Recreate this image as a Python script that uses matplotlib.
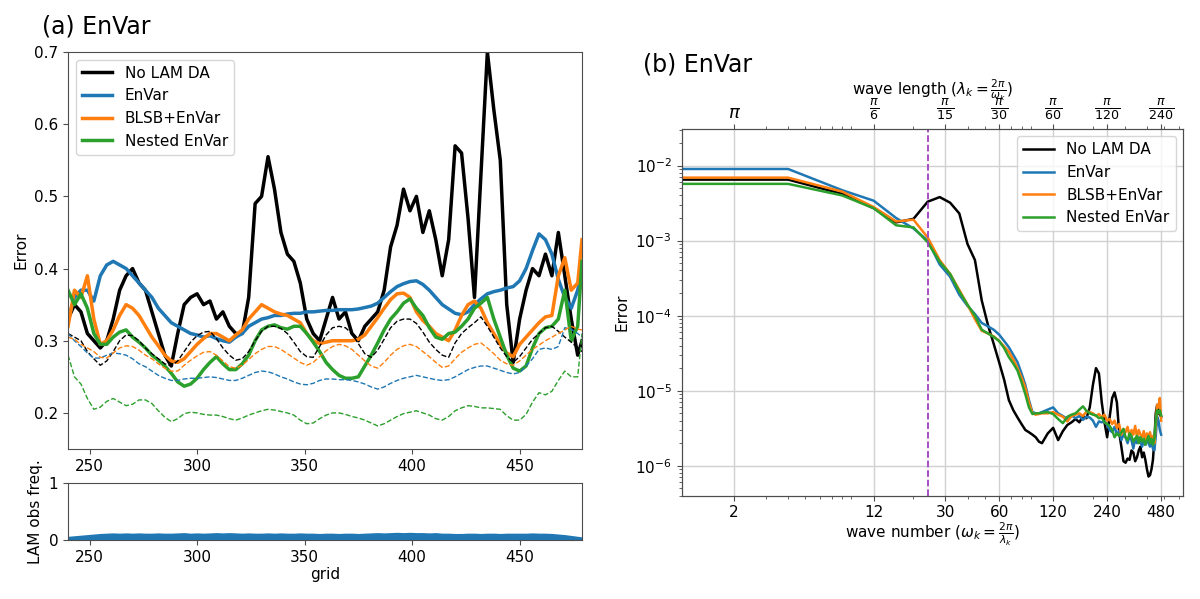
import numpy as np
import matplotlib.pyplot as plt

plt.rcParams["font.size"] = 11
plt.rcParams["axes.edgecolor"] = "0.3"
plt.rcParams["xtick.color"] = "0.3"
plt.rcParams["ytick.color"] = "0.3"
plt.rcParams["xtick.labelcolor"] = "black"
plt.rcParams["ytick.labelcolor"] = "black"

# ---- panel (a): error along the LAM grid ----
grid = np.r_[np.arange(240, 478, 3), 479]

err_no_da = [
    0.33, 0.35, 0.34, 0.31, 0.30, 0.29, 0.30, 0.33, 0.37, 0.39,
    0.40, 0.38, 0.37, 0.34, 0.31, 0.28, 0.265, 0.31, 0.35, 0.36,
    0.365, 0.35, 0.355, 0.33, 0.34, 0.32, 0.31, 0.31, 0.36, 0.49,
    0.50, 0.555, 0.51, 0.45, 0.42, 0.41, 0.38, 0.33, 0.31, 0.30,
    0.33, 0.36, 0.33, 0.34, 0.31, 0.30, 0.32, 0.33, 0.34, 0.37,
    0.43, 0.46, 0.51, 0.48, 0.50, 0.45, 0.48, 0.44, 0.39, 0.44,
    0.57, 0.56, 0.47, 0.36, 0.53, 0.70, 0.62, 0.55, 0.35, 0.27,
    0.33, 0.37, 0.40, 0.39, 0.42, 0.39, 0.45, 0.39, 0.33, 0.28,
    0.30,
]
err_envar = [
    0.33, 0.36, 0.37, 0.37, 0.355, 0.39, 0.405, 0.41, 0.405, 0.40,
    0.39, 0.38, 0.37, 0.36, 0.345, 0.335, 0.325, 0.32, 0.315, 0.31,
    0.308, 0.305, 0.307, 0.303, 0.30, 0.298, 0.305, 0.31, 0.32, 0.325,
    0.33, 0.332, 0.335, 0.335, 0.337, 0.338, 0.338, 0.34, 0.34, 0.341,
    0.342, 0.342, 0.343, 0.343, 0.343, 0.344, 0.346, 0.348, 0.352, 0.36,
    0.368, 0.375, 0.379, 0.382, 0.383, 0.378, 0.37, 0.36, 0.35, 0.344,
    0.338, 0.336, 0.34, 0.35, 0.358, 0.365, 0.368, 0.37, 0.373, 0.375,
    0.383, 0.40, 0.425, 0.448, 0.44, 0.42, 0.385, 0.36, 0.345, 0.37,
    0.40,
]
err_blsb = [
    0.32, 0.37, 0.36, 0.39, 0.33, 0.295, 0.30, 0.315, 0.335, 0.35,
    0.345, 0.335, 0.32, 0.305, 0.293, 0.28, 0.272, 0.27, 0.275, 0.285,
    0.295, 0.303, 0.31, 0.31, 0.305, 0.30, 0.308, 0.315, 0.33, 0.34,
    0.35, 0.345, 0.34, 0.337, 0.335, 0.33, 0.325, 0.31, 0.30, 0.296,
    0.298, 0.30, 0.30, 0.30, 0.30, 0.302, 0.308, 0.32, 0.332, 0.345,
    0.357, 0.365, 0.366, 0.36, 0.34, 0.328, 0.32, 0.31, 0.305, 0.30,
    0.315, 0.335, 0.35, 0.355, 0.345, 0.325, 0.31, 0.295, 0.283, 0.278,
    0.295, 0.305, 0.315, 0.325, 0.333, 0.335, 0.39, 0.415, 0.37, 0.38,
    0.44,
]
err_nested = [
    0.37, 0.35, 0.365, 0.345, 0.31, 0.295, 0.295, 0.305, 0.312, 0.315,
    0.305, 0.298, 0.29, 0.28, 0.273, 0.265, 0.255, 0.243, 0.237, 0.24,
    0.248, 0.26, 0.27, 0.278, 0.268, 0.26, 0.26, 0.268, 0.28, 0.30,
    0.315, 0.32, 0.322, 0.318, 0.316, 0.32, 0.32, 0.31, 0.298, 0.285,
    0.27, 0.26, 0.252, 0.248, 0.248, 0.25, 0.265, 0.28, 0.297, 0.315,
    0.33, 0.34, 0.352, 0.358, 0.345, 0.335, 0.318, 0.305, 0.302, 0.31,
    0.312, 0.32, 0.33, 0.345, 0.352, 0.36, 0.33, 0.305, 0.28, 0.262,
    0.258, 0.265, 0.29, 0.31, 0.318, 0.32, 0.33, 0.37, 0.30, 0.32,
    0.41,
]

# dashed curves (second statistic of each experiment)
dash_no_da = [
    0.31, 0.305, 0.30, 0.285, 0.275, 0.266, 0.272, 0.285, 0.30, 0.308,
    0.307, 0.30, 0.29, 0.282, 0.275, 0.268, 0.265, 0.272, 0.285, 0.298,
    0.307, 0.312, 0.313, 0.303, 0.29, 0.28, 0.273, 0.275, 0.285, 0.30,
    0.313, 0.32, 0.32, 0.317, 0.31, 0.298, 0.285, 0.278, 0.277, 0.292,
    0.308, 0.318, 0.32, 0.318, 0.31, 0.296, 0.282, 0.277, 0.287, 0.302,
    0.318, 0.327, 0.33, 0.33, 0.324, 0.312, 0.298, 0.288, 0.28, 0.277,
    0.297, 0.31, 0.318, 0.325, 0.333, 0.32, 0.305, 0.29, 0.278, 0.27,
    0.278, 0.29, 0.302, 0.31, 0.318, 0.32, 0.313, 0.305, 0.298, 0.29,
    0.285,
]
dash_envar = [
    0.31, 0.30, 0.292, 0.283, 0.276, 0.276, 0.28, 0.283, 0.282, 0.28,
    0.275, 0.268, 0.264, 0.258, 0.252, 0.248, 0.245, 0.245, 0.247, 0.248,
    0.248, 0.249, 0.25, 0.249, 0.247, 0.245, 0.245, 0.248, 0.252, 0.256,
    0.258, 0.257, 0.254, 0.25, 0.247, 0.243, 0.24, 0.239, 0.241, 0.245,
    0.247, 0.247, 0.246, 0.246, 0.245, 0.243, 0.24, 0.236, 0.233, 0.236,
    0.241, 0.245, 0.248, 0.25, 0.252, 0.25, 0.248, 0.246, 0.245, 0.246,
    0.25, 0.255, 0.26, 0.263, 0.265, 0.265, 0.262, 0.259, 0.256, 0.254,
    0.256, 0.265, 0.275, 0.288, 0.29, 0.288, 0.292, 0.318, 0.316, 0.31,
    0.305,
]
dash_blsb = [
    0.305, 0.302, 0.295, 0.29, 0.285, 0.277, 0.276, 0.283, 0.29, 0.293,
    0.292, 0.287, 0.28, 0.275, 0.268, 0.262, 0.258, 0.258, 0.266, 0.273,
    0.279, 0.284, 0.285, 0.28, 0.272, 0.264, 0.262, 0.266, 0.274, 0.282,
    0.288, 0.292, 0.292, 0.288, 0.282, 0.276, 0.27, 0.266, 0.27, 0.278,
    0.286, 0.292, 0.295, 0.293, 0.288, 0.28, 0.272, 0.265, 0.262, 0.27,
    0.28, 0.288, 0.293, 0.295, 0.292, 0.285, 0.278, 0.27, 0.263, 0.265,
    0.275, 0.284, 0.29, 0.295, 0.297, 0.29, 0.282, 0.273, 0.268, 0.266,
    0.272, 0.28, 0.288, 0.294, 0.30, 0.305, 0.31, 0.315, 0.32, 0.316,
    0.315,
]
dash_nested = [
    0.28, 0.25, 0.24, 0.22, 0.205, 0.208, 0.216, 0.22, 0.215, 0.21,
    0.212, 0.218, 0.218, 0.213, 0.203, 0.194, 0.188, 0.192, 0.199, 0.201,
    0.20, 0.198, 0.197, 0.197, 0.195, 0.192, 0.19, 0.193, 0.197, 0.20,
    0.203, 0.205, 0.204, 0.202, 0.20, 0.197, 0.19, 0.185, 0.186, 0.192,
    0.197, 0.20, 0.20, 0.198, 0.195, 0.193, 0.19, 0.186, 0.182, 0.185,
    0.19, 0.195, 0.199, 0.201, 0.203, 0.20, 0.197, 0.192, 0.19, 0.195,
    0.203, 0.207, 0.21, 0.209, 0.207, 0.207, 0.206, 0.205, 0.196, 0.19,
    0.19, 0.198, 0.215, 0.228, 0.225, 0.23, 0.245, 0.258, 0.25, 0.25,
    0.31,
]

obs_freq = [
    0.065, 0.075, 0.085, 0.095, 0.105, 0.115, 0.12, 0.125, 0.12, 0.125,
    0.12, 0.125, 0.12, 0.12, 0.125, 0.12, 0.12, 0.125, 0.13, 0.12,
    0.125, 0.12, 0.125, 0.13, 0.125, 0.13, 0.125, 0.12, 0.125, 0.12,
    0.12, 0.125, 0.12, 0.125, 0.12, 0.12, 0.125, 0.12, 0.12, 0.115,
    0.12, 0.12, 0.115, 0.12, 0.12, 0.115, 0.12, 0.125, 0.13, 0.125,
    0.13, 0.135, 0.13, 0.135, 0.13, 0.13, 0.125, 0.13, 0.12, 0.12,
    0.115, 0.115, 0.12, 0.12, 0.115, 0.12, 0.12, 0.115, 0.12, 0.12,
    0.12, 0.12, 0.125, 0.12, 0.12, 0.115, 0.105, 0.095, 0.08, 0.065,
    0.055,
]

# ---- panel (b): error spectrum vs wave number ----
wave = np.r_[np.arange(0, 104, 4), np.arange(104, 481, 8)]

spec_no_da = [
    6.5e-3, 6.5e-3, 4.2e-3, 2.7e-3, 1.75e-3, 1.95e-3, 3.3e-3, 3.8e-3, 3.2e-3, 2.3e-3,
    9e-4, 5.5e-4, 1.6e-4, 7.5e-5, 4.2e-5, 2.4e-5, 1.4e-5, 7.5e-6, 5.5e-6, 4.4e-6,
    3.6e-6, 3.0e-6, 2.8e-6, 2.6e-6, 2.4e-6, 2.1e-6,
    2.0e-6, 2.7e-6, 3.2e-6, 2.2e-6, 2.9e-6, 3.5e-6, 3.8e-6, 4.2e-6, 3.8e-6, 4.6e-6,
    4.3e-6, 6e-6, 1.2e-5, 2.0e-5, 1.7e-5, 7e-6, 3.8e-6, 2.4e-6, 4.5e-6, 8e-6,
    9.5e-6, 7e-6, 2.8e-6, 1.8e-6, 1.15e-6, 1.1e-6, 1.25e-6, 1.2e-6, 1.6e-6, 1.5e-6,
    1.15e-6, 1.3e-6, 1.6e-6, 1.8e-6, 1.3e-6, 1.5e-6, 1.2e-6, 9e-7, 7.2e-7, 7.5e-7,
    9e-7, 1.2e-6, 2.2e-6, 5e-6, 6.5e-6, 5e-6, 4.8e-6, 4.5e-6,
]
spec_envar = [
    9.0e-3, 9.0e-3, 4.7e-3, 3.4e-3, 2.0e-3, 1.45e-3, 1.0e-3, 4.8e-4, 3.3e-4, 1.9e-4,
    1.35e-4, 1.05e-4, 8e-5, 7.2e-5, 6.5e-5, 5.6e-5, 4.6e-5, 3.8e-5, 3.0e-5, 2.4e-5,
    1.7e-5, 1.2e-5, 7.5e-6, 5.2e-6, 5.0e-6, 5.0e-6,
    5.2e-6, 5.6e-6, 6.0e-6, 5.0e-6, 4.6e-6, 4.2e-6, 4.7e-6, 4.3e-6, 4.6e-6, 4.1e-6,
    4.5e-6, 4.4e-6, 4.0e-6, 3.3e-6, 3.9e-6, 3.8e-6, 3.9e-6, 3.5e-6, 3.0e-6, 2.8e-6,
    3.3e-6, 2.6e-6, 2.9e-6, 2.2e-6, 2.6e-6, 2.4e-6, 2.0e-6, 2.5e-6, 2.2e-6, 1.7e-6,
    2.3e-6, 2.0e-6, 2.4e-6, 2.1e-6, 1.8e-6, 2.2e-6, 1.9e-6, 2.3e-6, 2.0e-6, 1.8e-6,
    2.1e-6, 1.7e-6, 1.6e-6, 2.5e-6, 4.5e-6, 4.0e-6, 3.0e-6, 2.6e-6,
]
spec_blsb = [
    6.9e-3, 6.9e-3, 4.5e-3, 2.8e-3, 1.8e-3, 1.9e-3, 1.1e-3, 5.5e-4, 3.6e-4, 2.2e-4,
    1.4e-4, 9e-5, 6.3e-5, 5.8e-5, 5.3e-5, 4.6e-5, 3.9e-5, 3.3e-5, 2.6e-5, 2.0e-5,
    1.5e-5, 1.1e-5, 7e-6, 5.0e-6, 4.8e-6, 4.9e-6,
    5.0e-6, 5.0e-6, 5.2e-6, 4.8e-6, 4.5e-6, 3.9e-6, 4.6e-6, 4.8e-6, 5.0e-6, 4.6e-6,
    5.3e-6, 5.2e-6, 5.0e-6, 4.6e-6, 4.9e-6, 4.4e-6, 4.8e-6, 4.0e-6, 4.2e-6, 3.6e-6,
    4.0e-6, 3.2e-6, 3.6e-6, 2.6e-6, 3.1e-6, 2.8e-6, 3.3e-6, 2.5e-6, 3.0e-6, 2.6e-6,
    3.4e-6, 2.4e-6, 3.0e-6, 2.6e-6, 2.4e-6, 2.9e-6, 2.2e-6, 2.7e-6, 2.3e-6, 2.8e-6,
    2.2e-6, 2.5e-6, 2.0e-6, 3.5e-6, 6.5e-6, 6.0e-6, 8.0e-6, 4.0e-6,
]
spec_nested = [
    5.7e-3, 5.7e-3, 4.0e-3, 2.7e-3, 1.6e-3, 1.5e-3, 9.5e-4, 5.2e-4, 3.6e-4, 2.1e-4,
    1.4e-4, 1.0e-4, 6.5e-5, 5.8e-5, 5.2e-5, 4.6e-5, 3.7e-5, 2.8e-5, 2.3e-5, 1.85e-5,
    1.3e-5, 9e-6, 6e-6, 4.9e-6, 5.0e-6, 5.0e-6,
    5.1e-6, 5.2e-6, 4.9e-6, 4.2e-6, 3.7e-6, 4.5e-6, 4.8e-6, 5.0e-6, 5.6e-6, 6.2e-6,
    5.4e-6, 5.0e-6, 4.8e-6, 4.7e-6, 4.3e-6, 4.4e-6, 3.8e-6, 3.6e-6, 3.4e-6, 3.0e-6,
    2.4e-6, 2.7e-6, 2.5e-6, 2.8e-6, 3.1e-6, 2.4e-6, 2.2e-6, 2.7e-6, 2.5e-6, 2.1e-6,
    2.3e-6, 2.5e-6, 2.0e-6, 2.4e-6, 2.1e-6, 2.3e-6, 1.9e-6, 2.2e-6, 2.5e-6, 2.0e-6,
    2.3e-6, 1.9e-6, 2.3e-6, 4.0e-6, 5.5e-6, 5.0e-6, 5.5e-6, 4.7e-6,
]

wave_ticks = [2, 12, 30, 60, 120, 240, 480]
length_labels = [r"$\pi$", r"$\frac{\pi}{6}$", r"$\frac{\pi}{15}$", r"$\frac{\pi}{30}$",
                 r"$\frac{\pi}{60}$", r"$\frac{\pi}{120}$", r"$\frac{\pi}{240}$"]
cutoff_wave = 24

labels = ["No LAM DA", "EnVar", "BLSB+EnVar", "Nested EnVar"]
colors = ["black", "#1f77b4", "#ff7f0e", "#2ca02c"]

fig = plt.figure(figsize=(12, 5.99), dpi=100)
ax_a = fig.add_axes([0.0567, 0.2504, 0.4283, 0.6628])
ax_obs = fig.add_axes([0.0567, 0.0985, 0.4283, 0.0952])
ax_b = fig.add_axes([0.568, 0.1725, 0.418, 0.6127])

# (a) solid and dashed error curves
solid = [err_no_da, err_envar, err_blsb, err_nested]
dashed = [dash_no_da, dash_envar, dash_blsb, dash_nested]
for vals, c, lab in zip(solid, colors, labels):
    ax_a.plot(grid, vals, color=c, lw=2.5, label=lab)
for vals, c in zip(dashed, colors):
    ax_a.plot(grid, vals, color=c, lw=1.0, ls="--")

ax_a.set_xlim(240, 479)
ax_a.set_ylim(0.15, 0.7)
ax_a.set_xticks([250, 300, 350, 400, 450])
ax_a.set_yticks([0.2, 0.3, 0.4, 0.5, 0.6, 0.7])
ax_a.set_ylabel("Error")
ax_a.legend(loc="upper left", fontsize=11)

ax_obs.fill_between(grid, 0, obs_freq, color="#1f77b4", lw=0)
ax_obs.set_xlim(240, 479)
ax_obs.set_ylim(0, 1)
ax_obs.set_yticks([0, 1])
ax_obs.set_xticks([250, 300, 350, 400, 450])
ax_obs.set_xlabel("grid", labelpad=2)
ax_obs.set_ylabel("LAM obs freq.")

# (b) spectra
spectra = [spec_no_da, spec_envar, spec_blsb, spec_nested]
for vals, c, lab in zip(spectra, colors, labels):
    ax_b.plot(wave, vals, color=c, lw=1.8, label=lab)
ax_b.axvline(cutoff_wave, color="#a040c0", ls="--", lw=1.3)

ax_b.set_xscale("log")
ax_b.set_yscale("log")
ax_b.set_xlim(1.02, 637)
ax_b.set_ylim(4e-7, 3.1e-2)
ax_b.set_xticks(wave_ticks, [str(w) for w in wave_ticks])
ax_b.xaxis.set_minor_formatter(plt.NullFormatter())
ax_b.grid(True, which="major", color="0.82", lw=1)
ax_b.set_axisbelow(True)
ax_b.set_xlabel(r"wave number ($\omega_k=\frac{2\pi}{\lambda_k}$)", labelpad=0)
ax_b.set_ylabel("Error")
ax_b.legend(loc="upper right", fontsize=11)

ax_top = ax_b.twiny()
ax_top.set_xscale("log")
ax_top.set_xlim(ax_b.get_xlim())
ax_top.set_xticks(wave_ticks, length_labels)
ax_top.xaxis.set_minor_formatter(plt.NullFormatter())
ax_top.tick_params(axis="x", which="major", labelsize=13, pad=1)
ax_top.set_xlabel(r"wave length ($\lambda_k=\frac{2\pi}{\omega_k}$)", labelpad=1)

fig.text(0.035, 0.955, "(a) EnVar", fontsize=17, va="center")
fig.text(0.536, 0.893, "(b) EnVar", fontsize=17, va="center")

fig.savefig("out.png", dpi=100, facecolor="white")
